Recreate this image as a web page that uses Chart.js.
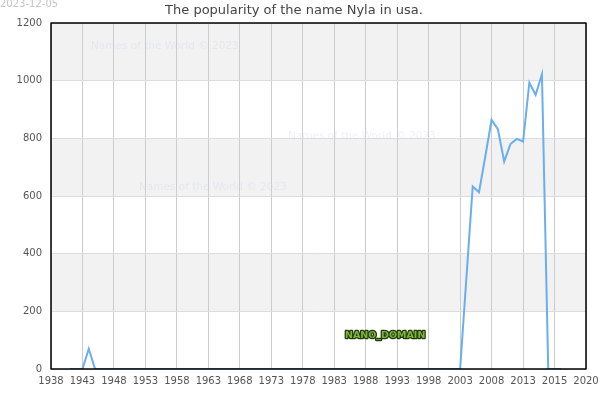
<!DOCTYPE html>
<html>
<head>
<meta charset="utf-8">
<script src="https://cdn.jsdelivr.net/npm/chart.js@4/dist/chart.umd.min.js"></script>
<style>
  html, body { margin: 0; padding: 0; background: #fff; }
  #wrap { width: 600px; height: 400px; }
</style>
</head>
<body>
<div id="wrap"><canvas id="c" width="600" height="400"></canvas></div>
<script>
const chartTitle = 'The popularity of the name Nyla in usa.';
const stampDate = '2023-12-05';
const watermark = 'Names of the World © 2023';
const brand = 'NANO_DOMAIN';

const years = [1941, 1942, 1943, 1944, 1945, 1946, 1947, 1948, 1949, 1950,
  1951, 1952, 1953, 1954, 1955, 1956, 1957, 1958, 1959, 1960,
  1961, 1962, 1963, 1964, 1965, 1966, 1967, 1968, 1969, 1970,
  1971, 1972, 1973, 1974, 1975, 1976, 1977, 1978, 1979, 1980,
  1981, 1982, 1983, 1984, 1985, 1986, 1987, 1988, 1989, 1990,
  1991, 1992, 1993, 1994, 1995, 1996, 1997, 1998, 1999, 2000,
  2001, 2002, 2003, 2005, 2006, 2007, 2008, 2009, 2010,
  2011, 2012, 2013, 2014, 2015, 2016, 2017, 2018, 2019];
const counts = [0, 0, 0, 70, 0, 0, 0, 0, 0, 0,
  0, 0, 0, 0, 0, 0, 0, 0, 0, 0,
  0, 0, 0, 0, 0, 0, 0, 0, 0, 0,
  0, 0, 0, 0, 0, 0, 0, 0, 0, 0,
  0, 0, 0, 0, 0, 0, 0, 0, 0, 0,
  0, 0, 0, 0, 0, 0, 0, 0, 0, 0,
  0, 0, 0, 633, 613, 737, 864, 832, 720,
  780, 798, 789, 993, 951, 1022, 0, 0, 0];

const xTickValues = [1938, 1943, 1948, 1953, 1958, 1963, 1968, 1973, 1978, 1983,
  1988, 1993, 1998, 2003, 2008, 2013, 2018, 2023];
const xTickLabels = ['1938', '1943', '1948', '1953', '1958', '1963', '1968', '1973', '1978', '1983',
  '1988', '1993', '1998', '2003', '2008', '2013', '2015', '2020'];
const yTicks = [0, 200, 400, 600, 800, 1000, 1200];

const points = years.map((y, i) => ({ x: y, y: counts[i] }));

const decor = {
  id: 'decor',
  beforeDraw(chart) {
    const { ctx, chartArea: a, scales: { y } } = chart;
    ctx.save();
    ctx.fillStyle = '#f2f2f2';
    for (let i = 0; i + 1 < yTicks.length; i++) {
      if (i % 2 === 1) {
        const top = y.getPixelForValue(yTicks[i + 1]);
        const bot = y.getPixelForValue(yTicks[i]);
        ctx.fillRect(a.left, top, a.right - a.left, bot - top);
      }
    }
    ctx.restore();
  },
  afterDatasetsDraw(chart) {
    const { ctx, chartArea: a } = chart;
    ctx.save();
    ctx.font = '10.5px "DejaVu Sans"';
    ctx.fillStyle = 'rgba(200,200,240,0.28)';
    ctx.textBaseline = 'middle';
    ctx.textAlign = 'left';
    ctx.fillText(watermark, 91, 46);
    ctx.fillText(watermark, 288, 136);
    ctx.fillText(watermark, 139, 187);

    ctx.font = 'bold 9.5px "DejaVu Sans"';
    ctx.lineWidth = 2.5;
    ctx.strokeStyle = '#1e3a0a';
    ctx.lineJoin = 'round';
    ctx.strokeText(brand, 345, 336);
    ctx.fillStyle = '#7fb33a';
    ctx.fillText(brand, 345, 336);

    ctx.strokeStyle = '#000';
    ctx.lineWidth = 1.5;
    ctx.strokeRect(a.left, a.top, a.right - a.left, a.bottom - a.top);

    ctx.font = '13px "DejaVu Sans"';
    ctx.fillStyle = '#444';
    ctx.textAlign = 'center';
    ctx.fillText(chartTitle, 294, 11);

    ctx.font = '10px "DejaVu Sans"';
    ctx.fillStyle = '#c4c4c4';
    ctx.textAlign = 'left';
    ctx.fillText(stampDate, 0, 4);
    ctx.restore();
  }
};

new Chart(document.getElementById('c'), {
  type: 'line',
  data: {
    datasets: [{
      data: points,
      borderColor: '#6aaef0',
      borderWidth: 2,
      pointRadius: 0,
      tension: 0,
      fill: false
    }]
  },
  options: {
    responsive: false,
    animation: false,
    layout: { padding: { top: 23, right: 14, left: 0, bottom: 0 } },
    plugins: { legend: { display: false }, tooltip: { enabled: false }, title: { display: false } },
    scales: {
      x: {
        type: 'linear',
        min: 1938,
        max: 2023,
        afterBuildTicks(scale) { scale.ticks = xTickValues.map(v => ({ value: v })); },
        afterFit(scale) { scale.height = 31; scale.paddingLeft = 0; scale.paddingRight = 0; },
        ticks: {
          autoSkip: false,
          maxRotation: 0,
          padding: 6,
          color: '#555',
          font: { family: 'DejaVu Sans', size: 10 },
          callback(value) { const i = xTickValues.indexOf(value); return i >= 0 ? xTickLabels[i] : ''; }
        },
        grid: { color: '#cccccc', lineWidth: 1, drawTicks: false },
        border: { display: false }
      },
      y: {
        min: 0,
        max: 1200,
        afterBuildTicks(scale) { scale.ticks = yTicks.map(v => ({ value: v })); },
        afterFit(scale) { scale.width = 51; scale.paddingTop = 0; scale.paddingBottom = 0; },
        ticks: {
          padding: 9,
          color: '#555',
          font: { family: 'DejaVu Sans', size: 10 },
          callback(value) { return String(value); }
        },
        grid: { color: '#dddddd', lineWidth: 1, drawTicks: false },
        border: { display: false }
      }
    }
  },
  plugins: [decor]
});
</script>
</body>
</html>
